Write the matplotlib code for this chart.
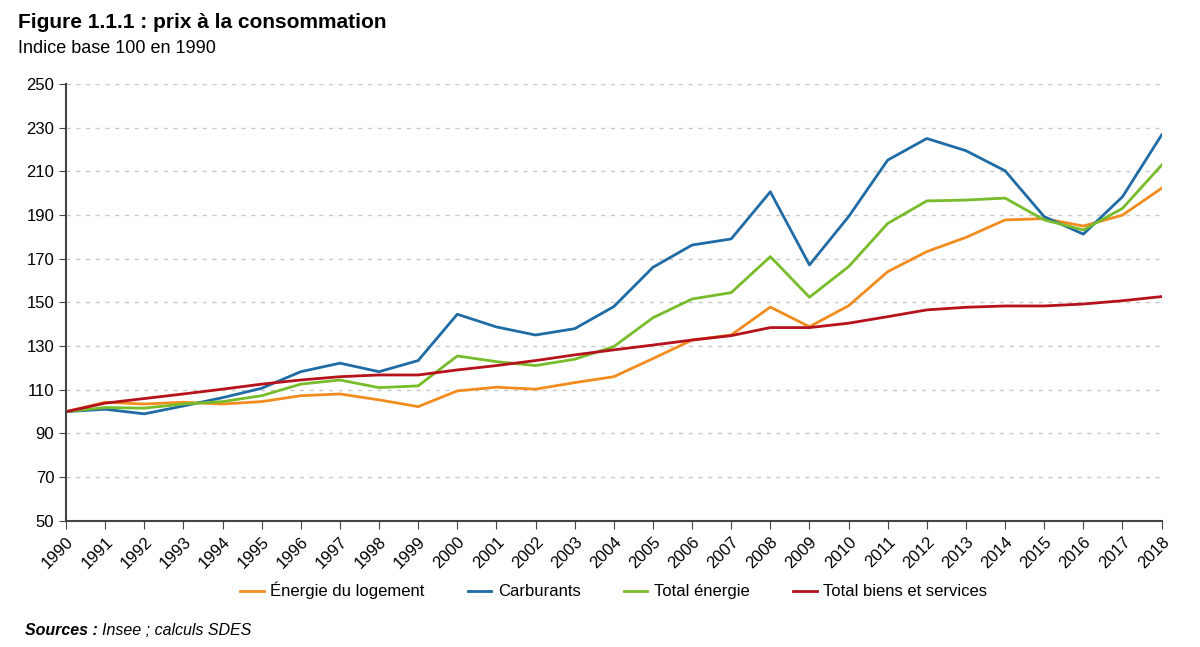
import matplotlib
matplotlib.use("Agg")
from matplotlib import pyplot as plt

plt.rcParams['font.family'] = ['Liberation Sans', 'DejaVu Sans']

years = list(range(1990, 2019))

energie_logement = [100, 104.3, 103.5, 104.3, 103.5, 104.6, 107.3, 108.1, 105.4, 102.3,
                    109.5, 111.2, 110.3, 113.3, 116.0, 124.3, 132.8, 135.1, 147.9, 138.9,
                    148.5, 164.1, 173.3, 179.8, 187.8, 188.4, 185.0, 190.0, 202.3]
carburants = [100, 101.1, 99.0, 102.6, 106.4, 110.7, 118.3, 122.2, 118.3, 123.4,
              144.6, 138.8, 135.1, 138.0, 148.1, 166.1, 176.3, 179.1, 200.7, 167.2,
              189.3, 215.2, 225.1, 219.5, 210.3, 189.3, 181.3, 198.4, 226.7]
total_energie = [100, 101.9, 101.6, 103.5, 104.6, 107.3, 112.6, 114.5, 111.0, 111.8,
                 125.5, 122.9, 121.1, 124.0, 129.8, 143.0, 151.6, 154.5, 171.0, 152.4,
                 166.4, 186.2, 196.5, 196.9, 197.8, 187.8, 183.2, 193.1, 212.9]
total_biens = [100, 103.9, 106.0, 108.1, 110.3, 112.6, 114.5, 116.0, 116.8, 116.8,
               119.1, 121.1, 123.4, 126.0, 128.3, 130.5, 132.8, 134.8, 138.5, 138.5,
               140.5, 143.5, 146.6, 147.8, 148.4, 148.4, 149.3, 150.8, 152.7]

series = [
    ("Énergie du logement", energie_logement, "#F28C1E"),
    ("Carburants", carburants, "#1F6BA5"),
    ("Total énergie", total_energie, "#77BC2A"),
    ("Total biens et services", total_biens, "#B5121B"),
]

fig = plt.figure(figsize=(12, 6.47), dpi=100)
ax = fig.add_axes([0.055, 0.195, 0.913, 0.675])

for name, vals, col in series:
    ax.plot(years, vals, color=col, lw=2, label=name)

ax.set_xlim(1990, 2018)
ax.set_ylim(50, 250)
ax.set_yticks(range(50, 251, 20))
ax.set_xticks(years)
ax.set_xticklabels([str(y) for y in years], rotation=45, ha='right',
                   rotation_mode='anchor', fontsize=12)
ax.tick_params(axis='y', labelsize=12, length=5, color='#444444')
ax.tick_params(axis='x', length=6, color='#444444')
ax.yaxis.grid(True, linestyle=(0, (3, 4)), color='#C8C8C8', lw=1)
ax.set_axisbelow(True)
for s in ['top', 'right']:
    ax.spines[s].set_visible(False)
for s in ['left', 'bottom']:
    ax.spines[s].set_color('#444444')
    ax.spines[s].set_linewidth(1.5)

ax.legend(loc='center', bbox_to_anchor=(0.5, -0.16), ncol=4, frameon=False,
          fontsize=12, handlelength=1.4, columnspacing=2.6, handletextpad=0.4)

fig.text(0.015, 0.965, "Figure 1.1.1 : prix à la consommation", fontsize=15,
         fontweight='bold', va='center')
fig.text(0.015, 0.925, "Indice base 100 en 1990", fontsize=13, va='center')
fig.text(0.021, 0.026, "Sources :", fontsize=11.5, fontweight='bold', style='italic', va='center')
fig.text(0.085, 0.026, "Insee ; calculs SDES", fontsize=11.5, style='italic', va='center')

fig.savefig("out.png", dpi=100)
